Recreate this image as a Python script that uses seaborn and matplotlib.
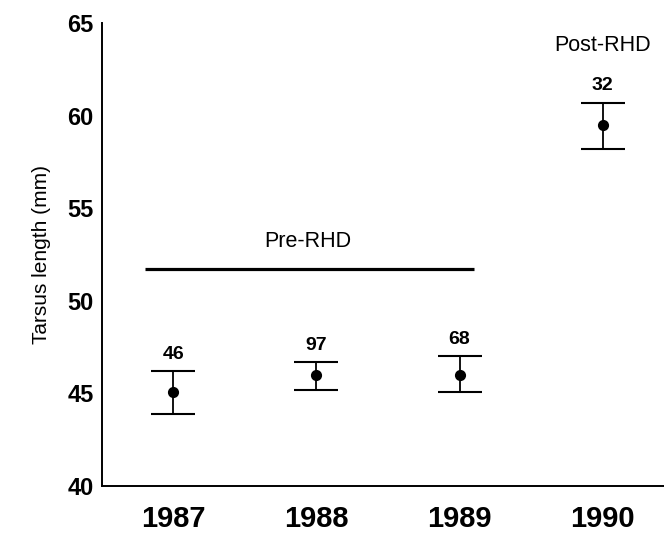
import seaborn as sns
import matplotlib.pyplot as plt
import pandas as pd
import numpy as np

# --- data ---
years = ['1987', '1988', '1989', '1990']
mean_tarsus = [45.1, 46.0, 46.0, 59.5]
lower_bar = [43.9, 45.2, 45.1, 58.2]
upper_bar = [46.2, 46.7, 47.0, 60.7]
sample_sizes = ['46', '97', '68', '32']

df = pd.DataFrame({'Year': years, 'Tarsus': mean_tarsus,
                   'Lower': lower_bar, 'Upper': upper_bar, 'n': sample_sizes})

# --- style ---
sns.set_style("white")
plt.rcParams['font.family'] = ['Liberation Sans', 'DejaVu Sans']
plt.rcParams.update({'text.color': 'black', 'axes.labelcolor': 'black',
                     'xtick.color': 'black', 'ytick.color': 'black'})

fig = plt.figure(figsize=(6.64, 5.35), dpi=100)
ax = fig.add_axes([0.1536, 0.0916, 0.8464, 0.8654])

# means
sns.pointplot(data=df, x='Year', y='Tarsus', linestyle='none', color='black',
              markers='o', markersize=6, errorbar=None, ax=ax)

# error bars (asymmetric)
pos = np.arange(len(df))
ax.errorbar(pos, df['Tarsus'],
            yerr=[df['Tarsus'] - df['Lower'], df['Upper'] - df['Tarsus']],
            fmt='none', ecolor='black', elinewidth=1.3, capsize=16, capthick=1.5)

# sample sizes above the bars
for i, row in df.iterrows():
    ax.annotate(row['n'], (i, row['Upper']), xytext=(0, 6), textcoords='offset points',
                ha='center', va='bottom', fontsize=14, fontweight='bold')

# period annotations
ax.plot([-0.2, 2.1], [51.7, 51.7], color='black', lw=2.3, solid_capstyle='butt')
ax.text(0.94, 53.2, 'Pre-RHD', ha='center', va='center', fontsize=15.5)
ax.text(3.0, 63.8, 'Post-RHD', ha='center', va='center', fontsize=15.5)

# axes
ax.set_xlim(-0.5, 3.43)
ax.set_ylim(40, 65)
ax.set_yticks([40, 45, 50, 55, 60, 65])
ax.set_xlabel('')
ax.set_ylabel('Tarsus length (mm)', fontsize=15, labelpad=12)
ax.tick_params(axis='y', direction='in', length=5, width=1, pad=6, labelsize=17)
ax.tick_params(axis='x', length=0, pad=14, labelsize=21)
for lab in ax.get_xticklabels() + ax.get_yticklabels():
    lab.set_fontweight('bold')

sns.despine(ax=ax)
for s in ['left', 'bottom']:
    ax.spines[s].set_linewidth(1.4)
    ax.spines[s].set_color('black')

plt.savefig('out.png', dpi=100)
